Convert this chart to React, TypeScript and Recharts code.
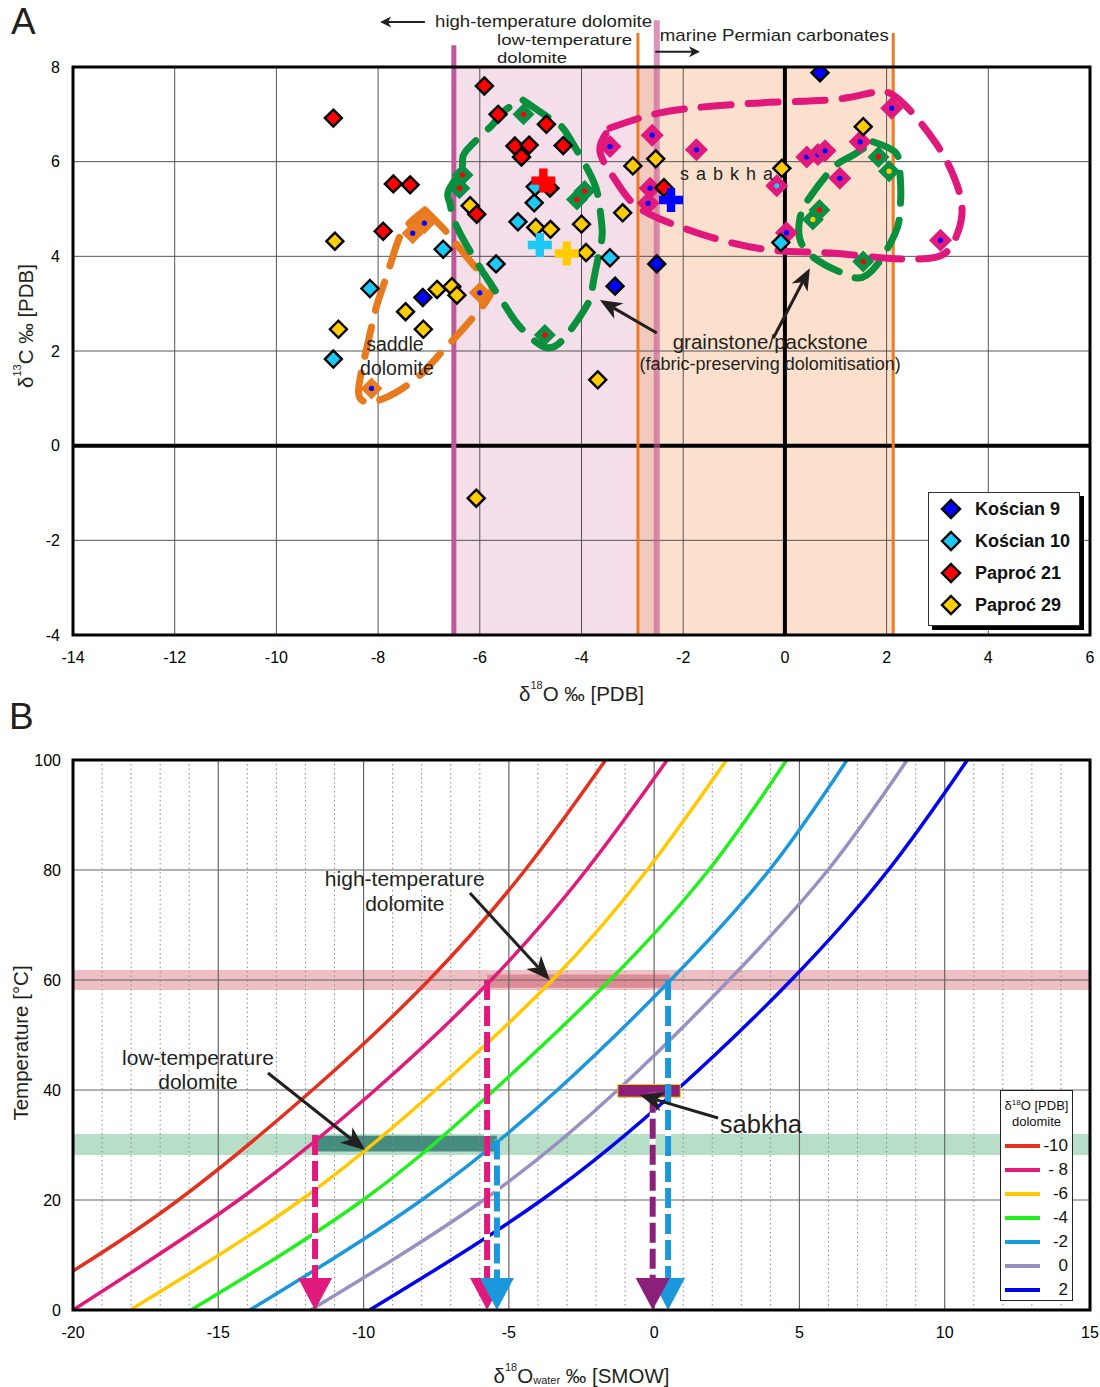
import React from "react";
import {
  ComposedChart,
  Scatter,
  Line,
  XAxis,
  YAxis,
  CartesianGrid,
  ReferenceArea,
  ReferenceLine,
  ReferenceDot,
  Legend,
} from "recharts";

const FONT = '"Liberation Sans", Arial, Helvetica, sans-serif';
const INK = "#231f20";

// ---------------- panel A: δ13C vs δ18O (‰ PDB) ----------------
const xTicksA = [-14, -12, -10, -8, -6, -4, -2, 0, 2, 4, 6];
const yTicksA = [-4, -2, 0, 2, 4, 6, 8];

const wellsA = [
  { name: "Kościan 9", color: "#0000ff" },
  { name: "Kościan 10", color: "#1cc8f4" },
  { name: "Paproć 21", color: "#ff0000" },
  { name: "Paproć 29", color: "#ffcc00" },
];

const koscian9 = [
  { x: -7.12, y: 3.13 },
  { x: -3.34, y: 3.37 },
  { x: -2.52, y: 3.84 },
  { x: 0.69, y: 7.88 },
];

const koscian10 = [
  { x: -8.16, y: 3.32 },
  { x: -8.88, y: 1.83 },
  { x: -6.72, y: 4.15 },
  { x: -5.25, y: 4.73 },
  { x: -5.68, y: 3.84 },
  { x: -4.93, y: 5.13 },
  { x: -4.91, y: 5.47 },
  { x: -3.44, y: 3.97 },
  { x: -0.08, y: 4.29 },
];

const paproc21 = [
  { x: -8.88, y: 6.92 },
  { x: -7.7, y: 5.53 },
  { x: -7.37, y: 5.51 },
  { x: -7.9, y: 4.53 },
  { x: -5.91, y: 7.6 },
  { x: -5.64, y: 7.0 },
  { x: -4.69, y: 6.79 },
  { x: -5.31, y: 6.33 },
  { x: -5.03, y: 6.35 },
  { x: -5.18, y: 6.1 },
  { x: -4.36, y: 6.34 },
  { x: -4.62, y: 5.44 },
  { x: -6.06, y: 4.89 },
  { x: -2.38, y: 5.45 },
];

const paproc29 = [
  { x: -8.85, y: 4.32 },
  { x: -6.84, y: 3.3 },
  { x: -6.55, y: 3.36 },
  { x: -6.45, y: 3.18 },
  { x: -7.46, y: 2.83 },
  { x: -7.11, y: 2.46 },
  { x: -8.78, y: 2.46 },
  { x: -6.19, y: 5.07 },
  { x: -4.9, y: 4.61 },
  { x: -4.61, y: 4.57 },
  { x: -4.0, y: 4.68 },
  { x: -3.19, y: 4.92 },
  { x: -2.99, y: 5.91 },
  { x: -2.54, y: 6.06 },
  { x: -3.91, y: 4.08 },
  { x: -3.68, y: 1.39 },
  { x: -6.07, y: -1.11 },
  { x: -0.06, y: 5.86 },
  { x: 1.54, y: 6.74 },
];

// grouped samples (grainstone/packstone, sabkha, saddle) with the well they come from
const grainstoneSamples = [
  { x: -6.34, y: 5.72, well: "Paproć 21" },
  { x: -6.4, y: 5.44, well: "Paproć 21" },
  { x: -5.14, y: 7.0, well: "Paproć 21" },
  { x: -3.94, y: 5.38, well: "Paproć 21" },
  { x: -4.09, y: 5.2, well: "Paproć 21" },
  { x: -4.72, y: 2.34, well: "Paproć 21" },
  { x: 1.84, y: 6.1, well: "Paproć 21" },
  { x: 2.05, y: 5.8, well: "Paproć 29" },
  { x: 0.68, y: 4.98, well: "Paproć 21" },
  { x: 0.55, y: 4.78, well: "Paproć 29" },
  { x: 1.54, y: 3.89, well: "Paproć 21" },
];

const sabkhaSamples = [
  { x: -3.44, y: 6.32, well: "Kościan 9" },
  { x: -2.61, y: 6.56, well: "Kościan 9" },
  { x: -1.74, y: 6.25, well: "Kościan 9" },
  { x: -2.65, y: 5.44, well: "Kościan 9" },
  { x: -2.69, y: 5.12, well: "Kościan 9" },
  { x: 2.1, y: 7.13, well: "Kościan 9" },
  { x: 1.48, y: 6.42, well: "Kościan 9" },
  { x: 0.43, y: 6.1, well: "Kościan 9" },
  { x: 0.65, y: 6.15, well: "Kościan 9" },
  { x: 0.79, y: 6.23, well: "Kościan 9" },
  { x: 1.08, y: 5.65, well: "Kościan 9" },
  { x: -0.16, y: 5.49, well: "Kościan 10" },
  { x: 0.03, y: 4.5, well: "Kościan 9" },
  { x: 3.06, y: 4.34, well: "Kościan 9" },
];

const saddleSamples = [
  { x: -7.09, y: 4.7, well: "Kościan 9" },
  { x: -7.32, y: 4.49, well: "Kościan 9" },
  { x: -6.0, y: 3.23, well: "Kościan 9" },
  { x: -8.13, y: 1.21, well: "Kościan 9" },
];

const wellMeans = [
  { x: -4.75, y: 5.6, well: "Paproć 21" },
  { x: -4.82, y: 4.24, well: "Kościan 10" },
  { x: -4.29, y: 4.06, well: "Paproć 29" },
  { x: -2.24, y: 5.19, well: "Kościan 9" },
];

// hand-drawn field outlines
const saddleLoop = [
  { x: -7.08, y: 4.98 },
  { x: -6.78, y: 4.66 },
  { x: -6.49, y: 4.3 },
  { x: -6.0, y: 3.67 },
  { x: -5.76, y: 3.29 },
  { x: -6.09, y: 2.76 },
  { x: -6.47, y: 2.3 },
  { x: -6.84, y: 1.87 },
  { x: -7.24, y: 1.43 },
  { x: -7.86, y: 1.01 },
  { x: -8.32, y: 0.96 },
  { x: -8.36, y: 1.39 },
  { x: -8.2, y: 2.17 },
  { x: -8.04, y: 2.91 },
  { x: -7.86, y: 3.5 },
  { x: -7.67, y: 4.13 },
  { x: -7.47, y: 4.6 },
  { x: -7.08, y: 4.98 },
];

const grainstoneLoopWest = [
  { x: -5.15, y: 7.3 },
  { x: -4.52, y: 6.84 },
  { x: -4.27, y: 6.56 },
  { x: -3.87, y: 5.82 },
  { x: -3.68, y: 5.3 },
  { x: -3.6, y: 4.66 },
  { x: -3.62, y: 4.24 },
  { x: -3.77, y: 3.44 },
  { x: -3.87, y: 3.01 },
  { x: -4.29, y: 2.34 },
  { x: -4.72, y: 2.08 },
  { x: -5.21, y: 2.51 },
  { x: -5.45, y: 2.87 },
  { x: -5.86, y: 3.54 },
  { x: -6.0, y: 3.77 },
  { x: -6.45, y: 4.62 },
  { x: -6.59, y: 5.13 },
  { x: -6.61, y: 5.4 },
  { x: -6.35, y: 5.89 },
  { x: -6.29, y: 6.2 },
  { x: -5.76, y: 6.77 },
  { x: -5.5, y: 7.09 },
  { x: -5.15, y: 7.3 },
];

const grainstoneLoopEast = [
  { x: 1.73, y: 6.42 },
  { x: 2.17, y: 6.2 },
  { x: 2.26, y: 5.82 },
  { x: 2.28, y: 5.36 },
  { x: 2.26, y: 4.92 },
  { x: 2.17, y: 4.49 },
  { x: 1.81, y: 3.82 },
  { x: 1.44, y: 3.54 },
  { x: 1.08, y: 3.67 },
  { x: 0.79, y: 3.82 },
  { x: 0.34, y: 4.24 },
  { x: 0.3, y: 4.83 },
  { x: 0.49, y: 5.25 },
  { x: 0.95, y: 5.87 },
  { x: 1.28, y: 6.1 },
  { x: 1.73, y: 6.42 },
];

const sabkhaLoop = [
  { x: -3.44, y: 6.71 },
  { x: -2.46, y: 7.03 },
  { x: -1.34, y: 7.18 },
  { x: -0.1, y: 7.26 },
  { x: 1.04, y: 7.32 },
  { x: 1.77, y: 7.47 },
  { x: 2.26, y: 7.3 },
  { x: 2.95, y: 6.42 },
  { x: 3.35, y: 5.61 },
  { x: 3.48, y: 4.87 },
  { x: 3.25, y: 4.18 },
  { x: 2.85, y: 3.96 },
  { x: 2.01, y: 3.96 },
  { x: 0.89, y: 4.07 },
  { x: -0.25, y: 4.13 },
  { x: -1.41, y: 4.39 },
  { x: -2.5, y: 4.81 },
  { x: -3.05, y: 5.19 },
  { x: -3.4, y: 5.72 },
  { x: -3.64, y: 6.25 },
  { x: -3.44, y: 6.71 },
];

// ---------------- panel B: T vs δ18O water (‰ SMOW) ----------------
const xTicksB = [-20, -15, -10, -5, 0, 5, 10, 15];
const yTicksB = [0, 20, 40, 60, 80, 100];
const minorTicksB = [
  -19, -18, -17, -16, -14, -13, -12, -11, -9, -8, -7, -6, -4, -3, -2, -1, 1, 2, 3, 4, 6, 7, 8, 9, 11,
  12, 13, 14,
];

// curve crossings read at the plot edges and the 20 °C grid lines
const dolomiteMinus10 = [
  { x: -20, t: 7.1 }, { x: -16.37, t: 20 }, { x: -11.76, t: 40 },
  { x: -7.75, t: 60 }, { x: -4.44, t: 80 }, { x: -1.67, t: 100 },
];
const dolomiteMinus8 = [
  { x: -20, t: 0 }, { x: -14.3, t: 20 }, { x: -9.6, t: 40 },
  { x: -5.61, t: 60 }, { x: -2.33, t: 80 }, { x: 0.45, t: 100 },
];
const dolomiteMinus6 = [
  { x: -18.03, t: 0 }, { x: -12.15, t: 20 }, { x: -7.52, t: 40 },
  { x: -3.5, t: 60 }, { x: -0.24, t: 80 }, { x: 2.49, t: 100 },
];
const dolomiteMinus4 = [
  { x: -15.94, t: 0 }, { x: -10.02, t: 20 }, { x: -5.5, t: 40 },
  { x: -1.52, t: 60 }, { x: 1.88, t: 80 }, { x: 4.56, t: 100 },
];
const dolomiteMinus2 = [
  { x: -13.91, t: 0 }, { x: -8.0, t: 20 }, { x: -3.33, t: 40 },
  { x: 0.57, t: 60 }, { x: 3.97, t: 80 }, { x: 6.64, t: 100 },
];
const dolomiteZero = [
  { x: -11.82, t: 0 }, { x: -5.87, t: 20 }, { x: -1.25, t: 40 },
  { x: 2.58, t: 60 }, { x: 5.98, t: 80 }, { x: 8.71, t: 100 },
];
const dolomitePlus2 = [
  { x: -9.79, t: 0 }, { x: -3.87, t: 20 }, { x: 0.78, t: 40 },
  { x: 4.72, t: 60 }, { x: 8.06, t: 80 }, { x: 10.78, t: 100 },
];

const curvesB = [
  { label: "-10", color: "#e2311f", data: dolomiteMinus10 },
  { label: "- 8", color: "#e0197d", data: dolomiteMinus8 },
  { label: "-6", color: "#ffc800", data: dolomiteMinus6 },
  { label: "-4", color: "#22f01e", data: dolomiteMinus4 },
  { label: "-2", color: "#1b97db", data: dolomiteMinus2 },
  { label: "0", color: "#9a8fc2", data: dolomiteZero },
  { label: "2", color: "#0000ee", data: dolomitePlus2 },
];

// read-outs: water composition for each dolomite type
const readoutsB = [
  { x: -11.67, from: 31.8, color: "#e0197d" },
  { x: -5.75, from: 60, color: "#e0197d" },
  { x: -5.41, from: 31, color: "#1b97db" },
  { x: 0.48, from: 60, color: "#1b97db" },
  { x: -0.05, from: 39.5, color: "#8b1f7a" },
];

// ---------------- shapes ----------------
const wellColor = (name?: string) => wellsA.find((w) => w.name === name)?.color ?? "#0000ff";

function diamond(fill: string, r: number, stroke = "none") {
  return (p: any) => {
    const { cx, cy } = p;
    return (
      <polygon
        points={`${cx},${cy - r} ${cx + r},${cy} ${cx},${cy + r} ${cx - r},${cy}`}
        fill={fill}
        stroke={stroke}
        strokeWidth={2.4}
      />
    );
  };
}

function groupDiamond(fill: string, r: number) {
  return (p: any) => {
    const { cx, cy } = p;
    return (
      <g>
        <polygon points={`${cx},${cy - r} ${cx + r},${cy} ${cx},${cy + r} ${cx - r},${cy}`} fill={fill} />
        <circle cx={cx} cy={cy} r={2.6} fill={wellColor(p.payload?.well)} />
      </g>
    );
  };
}

const meanCross = (p: any) => {
  const { cx, cy } = p;
  const a = 12;
  const b = 4.2;
  const d = `M${cx - b},${cy - a}h${2 * b}v${a - b}h${a - b}v${2 * b}h${b - a}v${a - b}h${-2 * b}v${b - a}h${b - a}v${-2 * b}h${a - b}z`;
  return <path d={d} fill={wellColor(p.payload?.well)} />;
};

function arrow(head: number, half: number, sw: number) {
  return (p: any) => {
    const { x1, y1, x2, y2 } = p;
    const ang = Math.atan2(y2 - y1, x2 - x1);
    const c = Math.cos(ang);
    const s = Math.sin(ang);
    const bx = x2 - head * c;
    const by = y2 - head * s;
    const nx = x2 - head * 0.72 * c;
    const ny = y2 - head * 0.72 * s;
    return (
      <g>
        <line x1={x1} y1={y1} x2={nx} y2={ny} stroke={INK} strokeWidth={sw} />
        <polygon
          points={`${x2},${y2} ${bx - s * half},${by + c * half} ${nx},${ny} ${bx + s * half},${by - c * half}`}
          fill={INK}
        />
      </g>
    );
  };
}

function readout(color: string) {
  return (p: any) => {
    const { x1, y1, x2, y2 } = p;
    const h = 32;
    const w = 17;
    return (
      <g>
        <line x1={x1} y1={y1} x2={x2} y2={y2 - h + 2} stroke="#fff" strokeWidth={6} />
        <line x1={x1} y1={y1} x2={x2} y2={y2 - h + 2} stroke={color} strokeWidth={6} strokeDasharray="20 6" />
        <polygon points={`${x2},${y2} ${x2 - w},${y2 - h} ${x2 + w},${y2 - h}`} fill={color} />
      </g>
    );
  };
}

function note(text: string, size: number, anchor: "start" | "middle" = "middle", spacing = 0, length?: number) {
  return (p: any) => (
    <text
      x={p.cx}
      y={p.cy}
      fontSize={size}
      fontFamily={FONT}
      textAnchor={anchor}
      dominantBaseline="central"
      letterSpacing={spacing}
      textLength={length}
      lengthAdjust={length ? "spacingAndGlyphs" : undefined}
      fill={INK}
    >
      {text}
    </text>
  );
}

const tick = { fontSize: 16, fill: "#000", fontFamily: FONT };

// ---------------- panel A ----------------
const xTitleA = (props: any) => {
  const vb = props.viewBox ?? { x: 73, y: 635, width: 1017 };
  return (
    <text x={vb.x + vb.width / 2} y={vb.y + 58} textAnchor="middle" dominantBaseline="central" fontSize={20.5} fontFamily={FONT} fill={INK}>
      δ<tspan fontSize={11} dy={-8}>18</tspan>
      <tspan dy={8}>O ‰ [PDB]</tspan>
    </text>
  );
};

const yTitleA = (props: any) => {
  const vb = props.viewBox ?? { x: 0, y: 67, height: 568 };
  const x = vb.x + 25;
  const y = vb.y + vb.height / 2 - 25;
  return (
    <text x={x} y={y} transform={`rotate(-90 ${x} ${y})`} textAnchor="middle" dominantBaseline="central" fontSize={20.5} fontFamily={FONT} fill={INK}>
      δ<tspan fontSize={11} dy={-8}>13</tspan>
      <tspan dy={8}>C ‰ [PDB]</tspan>
    </text>
  );
};

const legendA = () => (
  <div
    style={{
      width: 152,
      height: 134,
      boxSizing: "border-box",
      border: "1px solid #333",
      boxShadow: "4px 4px 0 #000",
      background: "#fff",
      fontFamily: FONT,
      fontWeight: 700,
      fontSize: 18,
      color: "#111",
    }}
  >
    {wellsA.map((w) => (
      <div key={w.name} style={{ display: "flex", alignItems: "center", height: 32 }}>
        <svg width={46} height={32} style={{ flex: "none" }}>
          <polygon points="22,7 31,16 22,25 13,16" fill={w.color} stroke="#000" strokeWidth={2.4} />
        </svg>
        <span>{w.name}</span>
      </div>
    ))}
  </div>
);

const notesA = [
  { x: -6.88, y: 8.97, text: "high-temperature dolomite", size: 17, anchor: "start" as const, length: 217 },
  { x: -5.66, y: 8.57, text: "low-temperature", size: 14, anchor: "start" as const, length: 135 },
  { x: -5.66, y: 8.2, text: "dolomite", size: 14, anchor: "start" as const, length: 70 },
  { x: -2.46, y: 8.66, text: "marine Permian carbonates", size: 17, anchor: "start" as const, length: 229 },
  { x: -1.14, y: 5.74, text: "s a b k h a", size: 18, anchor: "middle" as const, spacing: 1 },
  { x: -7.67, y: 2.15, text: "saddle", size: 19.5, anchor: "middle" as const },
  { x: -7.63, y: 1.64, text: "dolomite", size: 19.5, anchor: "middle" as const },
  { x: -0.29, y: 2.21, text: "grainstone/packstone", size: 20.5, anchor: "middle" as const },
  { x: -0.29, y: 1.72, text: "(fabric-preserving dolomitisation)", size: 18, anchor: "middle" as const },
];

const arrowsA = [
  { from: { x: -2.52, y: 2.38 }, to: { x: -3.64, y: 3.08 }, big: true },
  { from: { x: -0.23, y: 2.27 }, to: { x: 0.49, y: 3.75 }, big: true },
  { from: { x: -7.08, y: 8.95 }, to: { x: -7.96, y: 8.95 }, big: false },
  { from: { x: -2.55, y: 8.32 }, to: { x: -1.67, y: 8.32 }, big: false },
];

function PanelA() {
  return (
    <ComposedChart width={1100} height={715} margin={{ top: 67, right: 10, bottom: 0, left: 0 }}>
      <XAxis
        type="number"
        dataKey="x"
        domain={[-14, 6]}
        ticks={xTicksA}
        allowDataOverflow
        axisLine={false}
        tickLine={false}
        tickSize={0}
        tickMargin={17}
        height={80}
        tick={tick}
        label={xTitleA}
      />
      <YAxis
        type="number"
        dataKey="y"
        domain={[-4, 8]}
        ticks={yTicksA}
        allowDataOverflow
        axisLine={false}
        tickLine={false}
        tickSize={0}
        tickMargin={13}
        width={73}
        tick={tick}
        label={yTitleA}
      />
      <ReferenceArea x1={-6.51} x2={-2.52} y1={-4} y2={8} fill="#dca0c0" fillOpacity={0.35} stroke="none" zIndex={-150} />
      <ReferenceArea x1={-2.89} x2={2.13} y1={-4} y2={8} fill="#f39c5b" fillOpacity={0.3} stroke="none" zIndex={-150} />
      <CartesianGrid stroke="#555" strokeWidth={1} />
      <ReferenceLine x={0} stroke="#000" strokeWidth={4} zIndex={150} />
      <ReferenceLine y={0} stroke="#000" strokeWidth={4} zIndex={150} />
      <ReferenceLine segment={[{ x: -6.51, y: -4 }, { x: -6.51, y: 8.46 }]} stroke="#be579b" strokeWidth={5} ifOverflow="visible" zIndex={160} />
      <ReferenceLine segment={[{ x: -2.89, y: -4 }, { x: -2.89, y: 8.72 }]} stroke="#ee7b22" strokeWidth={3} ifOverflow="visible" zIndex={160} />
      <ReferenceLine segment={[{ x: 2.13, y: -4 }, { x: 2.13, y: 8.72 }]} stroke="#ee7b22" strokeWidth={3} ifOverflow="visible" zIndex={160} />
      <ReferenceLine segment={[{ x: -2.52, y: -4 }, { x: -2.52, y: 8.99 }]} stroke="#c45a95" strokeOpacity={0.65} strokeWidth={6} ifOverflow="visible" zIndex={160} />

      {[
        { pts: saddleLoop, color: "#e87a1e" },
        { pts: grainstoneLoopWest, color: "#0a8f3c" },
        { pts: grainstoneLoopEast, color: "#0a8f3c" },
        { pts: sabkhaLoop, color: "#e0187c" },
      ].map((l, i) => (
        <Line
          key={i}
          data={l.pts}
          dataKey="y"
          type="natural"
          stroke={l.color}
          strokeWidth={7}
          strokeDasharray="30 17"
          strokeLinecap="round"
          dot={false}
          activeDot={false}
          legendType="none"
          isAnimationActive={false}
          zIndex={300}
        />
      ))}

      <Scatter data={saddleSamples} shape={groupDiamond("#ea7d20", 11)} isAnimationActive={false} legendType="none" />
      <Scatter data={grainstoneSamples} shape={groupDiamond("#0a8f45", 11)} isAnimationActive={false} legendType="none" />
      <Scatter data={sabkhaSamples} shape={groupDiamond("#e0197d", 11.5)} isAnimationActive={false} legendType="none" />
      <Scatter data={paproc29} shape={diamond(wellsA[3].color, 8.5, "#000")} isAnimationActive={false} />
      <Scatter data={koscian10} shape={diamond(wellsA[1].color, 8.5, "#000")} isAnimationActive={false} />
      <Scatter data={paproc21} shape={diamond(wellsA[2].color, 8.5, "#000")} isAnimationActive={false} />
      <Scatter data={koscian9} shape={diamond(wellsA[0].color, 8.5, "#000")} isAnimationActive={false} />
      <Scatter data={wellMeans} shape={meanCross} isAnimationActive={false} legendType="none" />

      {arrowsA.map((a, i) => (
        <ReferenceLine
          key={"aa" + i}
          segment={[a.from, a.to]}
          ifOverflow="visible"
          shape={a.big ? arrow(22, 9, 3) : arrow(11, 5.5, 2)}
          zIndex={700}
        />
      ))}
      {notesA.map((n, i) => (
        <ReferenceDot
          key={"na" + i}
          x={n.x}
          y={n.y}
          r={0}
          ifOverflow="visible"
          shape={note(n.text, n.size, n.anchor, (n as any).spacing ?? 0, (n as any).length)}
          zIndex={700}
        />
      ))}
      <ReferenceArea x1={-14} x2={6} y1={-4} y2={8} fill="none" stroke="#000" strokeWidth={3} zIndex={800} />
      <Legend
        content={legendA}
        layout="vertical"
        align="center"
        verticalAlign="middle"
        wrapperStyle={{ left: 928, top: 492, width: 156, height: 138 }}
      />
    </ComposedChart>
  );
}

// ---------------- panel B ----------------
const xTitleB = (props: any) => {
  const vb = props.viewBox ?? { x: 73, y: 610, width: 1017 };
  return (
    <text x={vb.x + vb.width / 2} y={vb.y + 65} textAnchor="middle" dominantBaseline="central" fontSize={20.5} fontFamily={FONT} fill={INK}>
      δ<tspan fontSize={11} dy={-8}>18</tspan>
      <tspan dy={8}>O</tspan>
      <tspan fontSize={11} dy={5}>water</tspan>
      <tspan dy={-5}> ‰ [SMOW]</tspan>
    </text>
  );
};

const yTitleB = (props: any) => {
  const vb = props.viewBox ?? { x: 0, y: 60, height: 550 };
  const x = vb.x + 20;
  const y = vb.y + vb.height / 2 + 8;
  return (
    <text x={x} y={y} transform={`rotate(-90 ${x} ${y})`} textAnchor="middle" dominantBaseline="central" fontSize={20.5} fontFamily={FONT} fill={INK}>
      Temperature [°C]
    </text>
  );
};

const legendB = () => (
  <div
    style={{
      width: 73,
      height: 211,
      boxSizing: "border-box",
      border: "1.5px solid #222",
      background: "#fff",
      fontFamily: FONT,
      color: "#111",
    }}
  >
    <div style={{ fontSize: 13, lineHeight: "16px", textAlign: "center", marginTop: 7 }}>
      δ<span style={{ fontSize: 8, verticalAlign: "super", lineHeight: 0 }}>18</span>O [PDB]
    </div>
    <div style={{ fontSize: 13, lineHeight: "16px", textAlign: "center", marginBottom: 4 }}>dolomite</div>
    {curvesB.map((c) => (
      <div key={c.label} style={{ display: "flex", alignItems: "center", height: 24 }}>
        <div style={{ width: 35, height: 4, background: c.color, marginLeft: 4, flex: "none" }} />
        <div style={{ flex: 1, textAlign: "right", paddingRight: 4, fontSize: 17 }}>{c.label}</div>
      </div>
    ))}
  </div>
);

const notesB = [
  { x: -8.58, y: 78.4, text: "high-temperature", size: 21, anchor: "middle" as const },
  { x: -8.58, y: 74.0, text: "dolomite", size: 21, anchor: "middle" as const },
  { x: -15.7, y: 46.0, text: "low-temperature", size: 21, anchor: "middle" as const },
  { x: -15.7, y: 41.6, text: "dolomite", size: 21, anchor: "middle" as const },
  { x: 2.26, y: 33.8, text: "sabkha", size: 25.5, anchor: "start" as const },
];

const arrowsB = [
  { from: { x: -6.34, y: 75.8 }, to: { x: -3.59, y: 60 } },
  { from: { x: -13.29, y: 43.1 }, to: { x: -9.95, y: 29.1 } },
  { from: { x: 2.2, y: 34.9 }, to: { x: -0.49, y: 39.1 } },
];

function PanelB() {
  return (
    <ComposedChart width={1100} height={687} margin={{ top: 60, right: 10, bottom: 0, left: 0 }}>
      <XAxis
        type="number"
        dataKey="x"
        domain={[-20, 15]}
        ticks={xTicksB}
        allowDataOverflow
        axisLine={false}
        tickLine={false}
        tickSize={0}
        tickMargin={17}
        height={77}
        tick={tick}
        label={xTitleB}
      />
      <YAxis
        type="number"
        domain={[0, 100]}
        ticks={yTicksB}
        allowDataOverflow
        axisLine={false}
        tickLine={false}
        tickSize={0}
        tickMargin={12}
        width={73}
        tick={tick}
        label={yTitleB}
      />
      <ReferenceArea y1={58.2} y2={61.8} x1={-20} x2={15} fill="#de7f88" fillOpacity={0.5} stroke="none" zIndex={-150} />
      <ReferenceArea y1={28.2} y2={32} x1={-20} x2={15} fill="#6fbf90" fillOpacity={0.5} stroke="none" zIndex={-150} />
      <ReferenceArea x1={-5.75} x2={0.55} y1={58.6} y2={61.0} fill="#d46a78" fillOpacity={0.6} stroke="none" zIndex={-140} />
      <ReferenceArea x1={-11.67} x2={-5.41} y1={28.8} y2={31.7} fill="#468c7e" fillOpacity={1} stroke="none" zIndex={-140} />
      {minorTicksB.map((v) => (
        <ReferenceLine key={"m" + v} x={v} stroke="#8a8a8a" strokeWidth={1} strokeDasharray="1.5 3" zIndex={-120} />
      ))}
      <CartesianGrid stroke="#666" strokeWidth={1.2} />

      {curvesB.map((c) => (
        <Line
          key={c.label}
          data={c.data}
          dataKey="t"
          type="natural"
          stroke={c.color}
          strokeWidth={3.5}
          dot={false}
          activeDot={false}
          isAnimationActive={false}
          zIndex={400}
        />
      ))}

      <ReferenceArea x1={-1.25} x2={0.9} y1={38.7} y2={41.0} fill="#8b1f7a" fillOpacity={1} stroke="#f0d000" strokeWidth={1} zIndex={450} />
      {readoutsB.map((r, i) => (
        <ReferenceLine
          key={"r" + i}
          segment={[{ x: r.x, y: r.from }, { x: r.x, y: 0 }]}
          shape={readout(r.color)}
          zIndex={500}
        />
      ))}
      {arrowsB.map((a, i) => (
        <ReferenceLine key={"ab" + i} segment={[a.from, a.to]} ifOverflow="visible" shape={arrow(24, 10, 3)} zIndex={700} />
      ))}
      {notesB.map((n, i) => (
        <ReferenceDot
          key={"nb" + i}
          x={n.x}
          y={n.y}
          r={0}
          ifOverflow="visible"
          shape={note(n.text, n.size, n.anchor)}
          zIndex={700}
        />
      ))}
      <ReferenceArea x1={-20} x2={15} y1={0} y2={100} fill="none" stroke="#000" strokeWidth={3} zIndex={800} />
      <Legend
        content={legendB}
        layout="vertical"
        align="center"
        verticalAlign="middle"
        wrapperStyle={{ left: 1000, top: 390, width: 73, height: 211 }}
      />
    </ComposedChart>
  );
}

export default function App() {
  return (
    <div style={{ position: "absolute", left: 0, top: 0, width: 1100, height: 1387, background: "#fff", fontFamily: FONT }}>
      <div style={{ position: "absolute", left: 0, top: 0 }}>
        <PanelA />
      </div>
      <div style={{ position: "absolute", left: 0, top: 700 }}>
        <PanelB />
      </div>
      <div style={{ position: "absolute", left: 11, top: 3, fontSize: 37, lineHeight: 1, color: INK }}>A</div>
      <div style={{ position: "absolute", left: 9, top: 698, fontSize: 37, lineHeight: 1, color: INK }}>B</div>
    </div>
  );
}
